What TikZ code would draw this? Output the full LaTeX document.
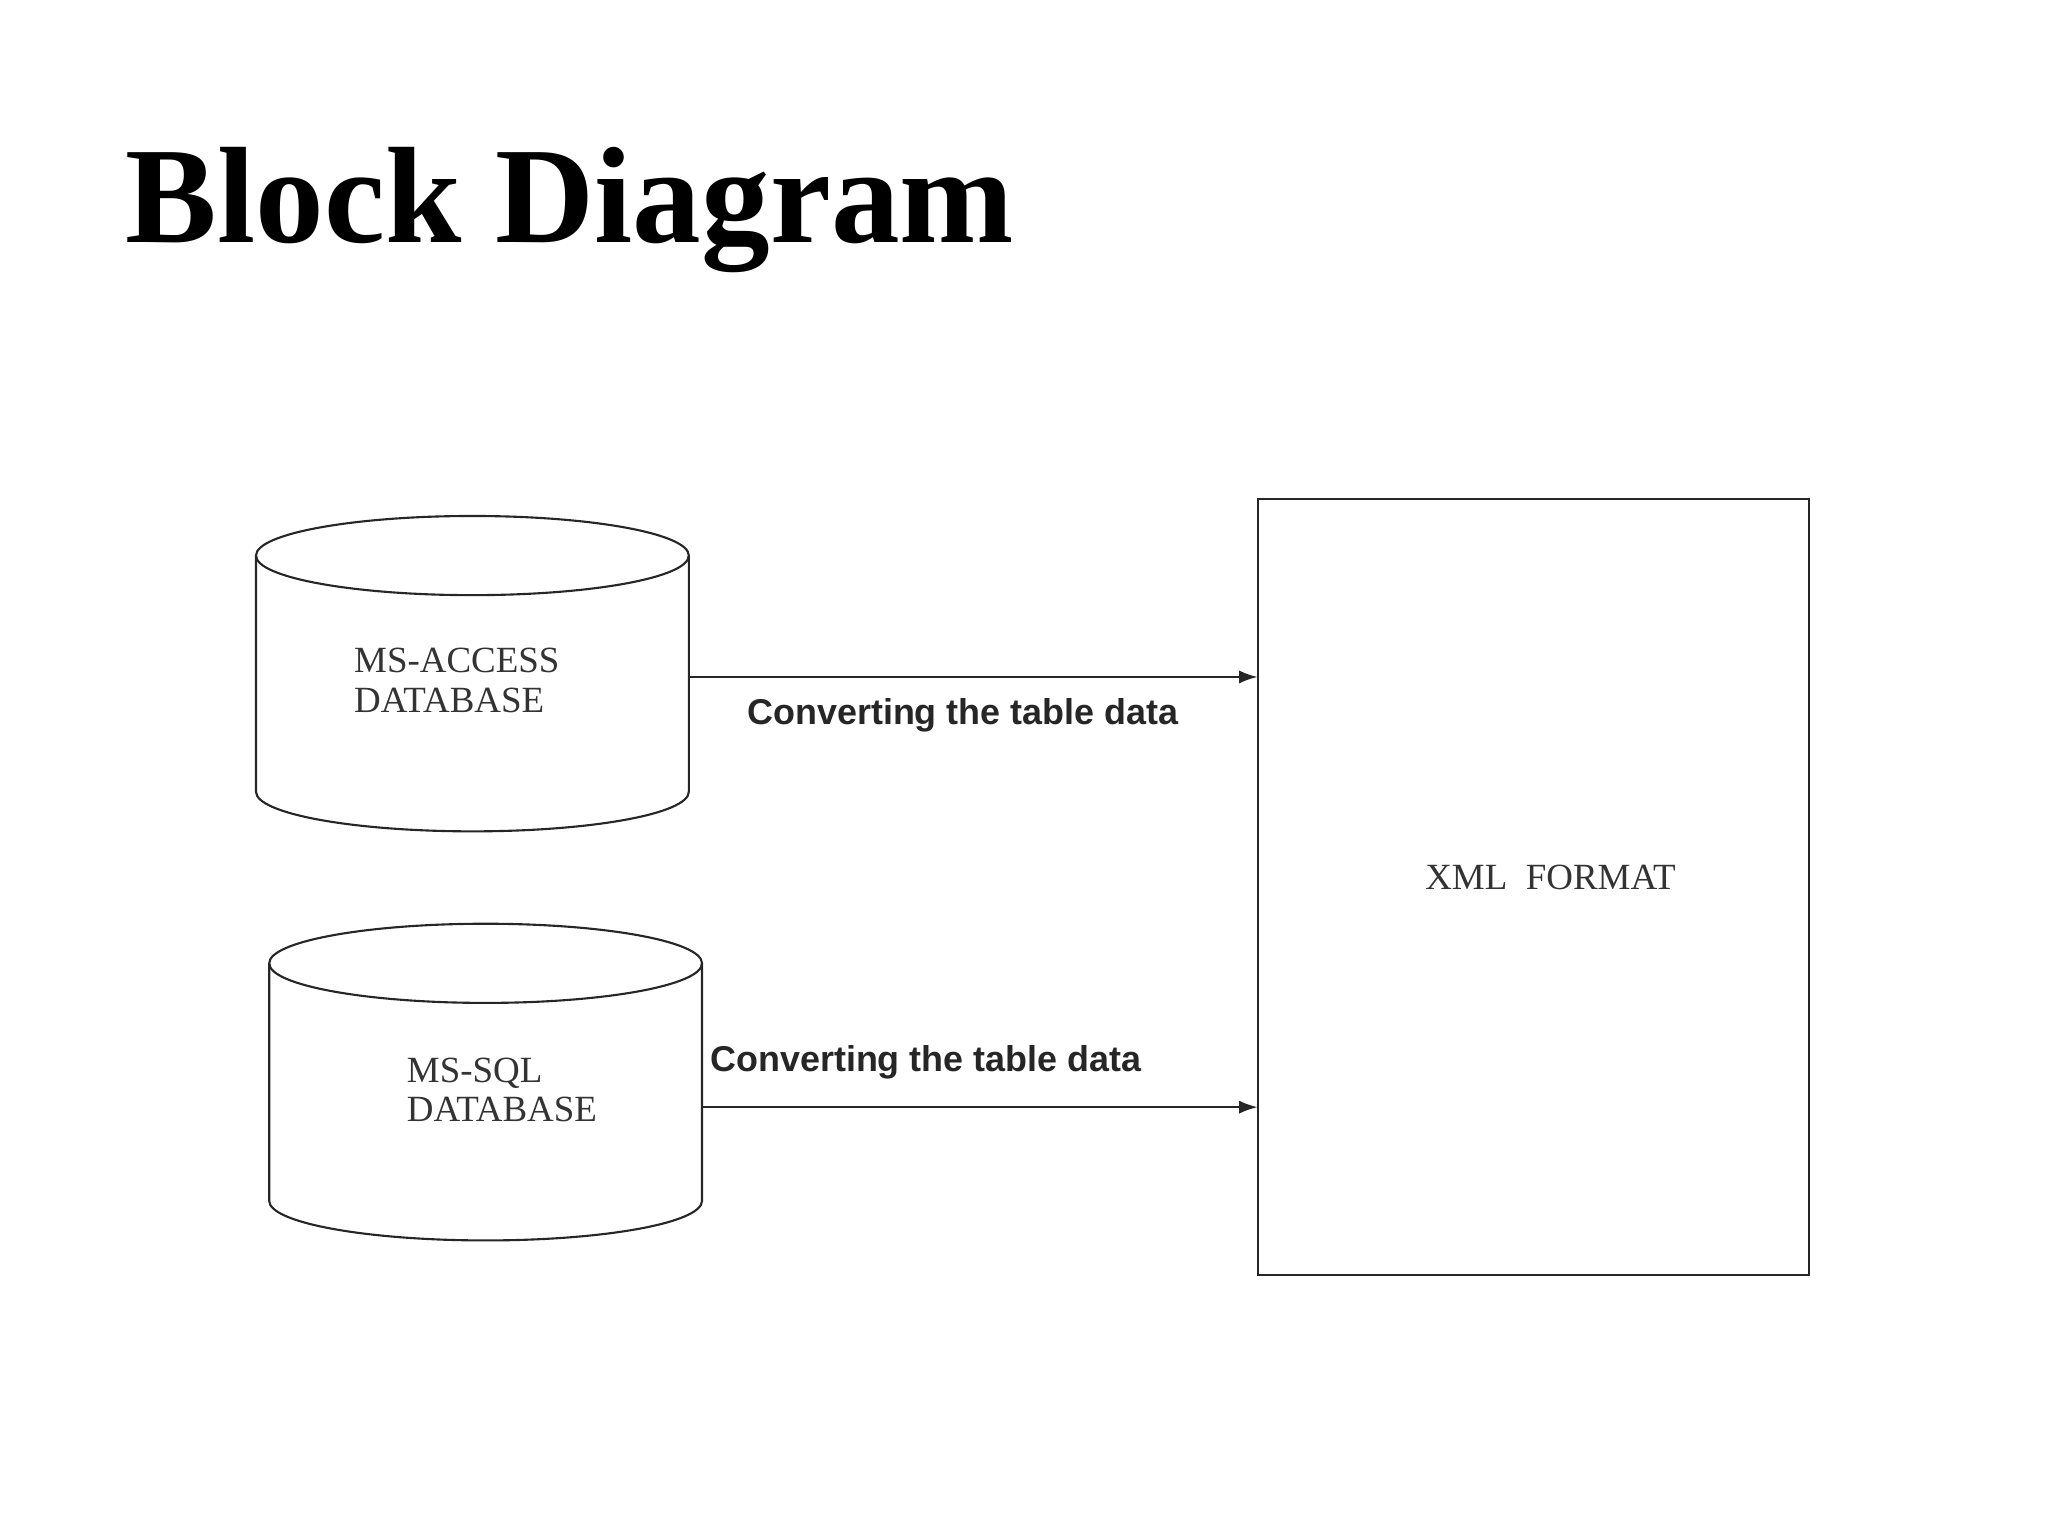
\documentclass[tikz,border=0pt]{standalone}
\usepackage{fontspec}
\setmainfont{Liberation Serif}
\newfontfamily\lsans{Liberation Sans}
\usetikzlibrary{arrows.meta}
\begin{document}
\begin{tikzpicture}[x=0.5pt,y=-0.5pt,
  ln/.style={line width=0.8pt,black!85},
  arr/.style={ln,-{Latex[length=7pt,width=5pt]}},
  lab/.style={font=\lsans\bfseries\fontsize{13.6}{15}\selectfont,text=black!85,inner sep=0},
  db/.style={font=\fontsize{14}{16}\selectfont,align=left,inner sep=0,text=black!80}]
\useasboundingbox (0,0) rectangle (1552,1164);
\node[anchor=base west,inner sep=0,font=\bfseries\fontsize{52}{60}\selectfont] (title) at (95,184) {Block Diagram};
% cylinder 1
\draw[ln] (194,421) -- (194,600) arc[start angle=180,end angle=0,x radius=164,y radius=30] -- (522,421);
\draw[ln] (358,421) ellipse[x radius=164,y radius=30];
% cylinder 2
\draw[ln] (204,730) -- (204,910) arc[start angle=180,end angle=0,x radius=164,y radius=30] -- (532,730);
\draw[ln] (368,730) ellipse[x radius=164,y radius=30];
\node[db,anchor=north west] (ms1) at (268,491) {MS-ACCESS\\[-1pt]DATABASE};
\node[db,anchor=north west] (ms2) at (308,801) {MS-SQL\\[-1pt]DATABASE};
\coordinate (c1) at (522,513);
\coordinate (c2) at (532,839);
\node[draw,ln,minimum width=209pt,minimum height=294pt,inner sep=0] (xml) at (1162,672) {};
\node[db] at (1175,665) {XML\ \ FORMAT};
\coordinate (x1) at (953,513);
\coordinate (x2) at (953,839);
\draw[arr] (c1) -- (x1);
\draw[arr] (c2) -- (x2);
\node[lab,anchor=west] (l1) at (566,542) {Converting the table data};
\node[lab,anchor=west] (l2) at (538,805) {Converting the table data};
\end{tikzpicture}
\end{document}
